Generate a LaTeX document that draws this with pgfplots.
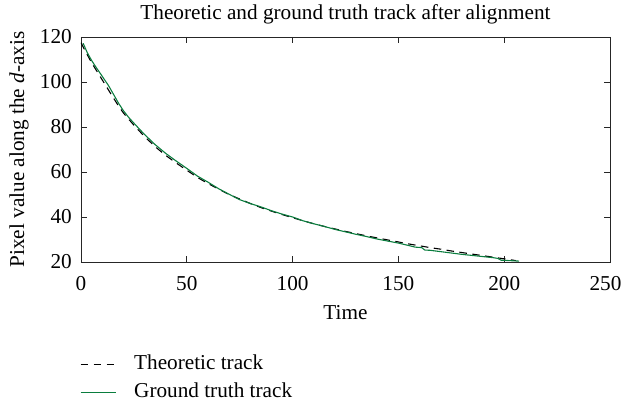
\documentclass[border=0pt]{standalone}
\usepackage{fontspec}
\setmainfont{Liberation Serif}
\usepackage{pgfplots}
\pgfplotsset{compat=1.18}
\definecolor{gtgreen}{RGB}{10,125,62}
\begin{document}
\begin{tikzpicture}[font=\fontsize{21.3}{25}\selectfont]
\begin{axis}[
  scale only axis,
  width=529bp, height=225bp,
  xmin=0, xmax=250, ymin=20, ymax=120,
  xtick={0,50,100,150,200,250},
  xticklabels={0,50,100,150,200,\hspace*{-9bp}250},
  ytick={20,40,60,80,100,120},
  tick align=inside,
  major tick length=6bp,
  axis line style={black!85, line width=1pt},
  tick style={black!85, line width=0.9pt},
  /pgf/number format/assume math mode=true,
  xticklabel style={font=\fontsize{21.3}{25}\selectfont, anchor=base, inner sep=0pt, yshift=-28bp},
  yticklabel style={font=\fontsize{21.3}{25}\selectfont, anchor=east, inner sep=0pt, xshift=-9bp},
  title={Theoretic and ground truth track after alignment},
  title style={at={(axis description cs:0.5,1)}, anchor=base, inner sep=0pt, yshift=12bp},
  xlabel={Time},
  xlabel style={at={(axis description cs:0.5,0)}, anchor=base, inner sep=0pt, yshift=-57bp},
  ylabel={Pixel value along the \textit{d}-axis},
  ylabel style={at={(axis description cs:-0.117,0.5)}, anchor=center, inner sep=0pt},
  legend style={at={(axis description cs:-0.002,-0.405)}, anchor=north west,
    draw=none, fill=none, inner sep=0pt,
    font=\fontsize{21.3}{25}\selectfont,
    nodes={inner sep=2bp, text height=14bp, text depth=4bp},
    row sep=6bp, column sep=16bp},
  legend cell align=left,
  legend image code/.code={\draw[#1] (0bp,0bp) -- (35bp,0bp);},
]
\addplot[black, line width=1.1pt, dash pattern=on 7.5bp off 5.5bp] coordinates {
(0,117.5) (2,113.8) (5,108.6) (7.5,104.8) (10,101) (12.5,97.2) (15,93.4) (17.5,89.7) (20,86.3)
(25,80.8) (30,75.8) (35,71.3) (40,67.4) (45,64) (50,60.8) (55,57.6) (60,54.9) (65,52.4)
(70,50) (75,48) (80,46) (85,44.2) (90,42.6) (95,41.1) (100,39.7) (105,38.3) (110,37)
(115,35.8) (120,34.7) (125,33.6) (130,32.6) (135,31.6) (140,30.7) (145,29.8) (150,28.9)
(155,28) (160,27.2) (165,26.4) (170,25.7) (175,24.9) (180,24.2) (185,23.5) (190,22.8)
(195,22.1) (200,21.4) (203,21.0) (205.5,20.6)
};
\addlegendentry{Theoretic track}
\addplot[gtgreen, line width=1.1pt] coordinates {
(1,117.2) (3,113) (5,109.6) (7,106.7) (10,102.6) (13,98.4) (15.5,94.3) (17.6,90.8) (20,87.3)
(22.5,84.3) (25.5,81.2) (30,76.7) (35,72.2) (40,68.3) (44.5,65.2) (50,61.6) (55,58.2) (60,55.5)
(65,52.6) (70,50.1) (75,47.7) (80,46) (85,44.5) (90,42.8) (95,41.3) (100,40) (105,38.3)
(110,37) (115,35.8) (120,34.5) (125,33.4) (130,32.3) (135,31.3) (140,30.2) (145,29.3)
(150,28.4) (155,27.3) (158,26.6) (161,26.4) (162.5,25.3) (165,25.2) (170,24.6) (175,24)
(180,23.4) (185,22.9) (190,22.4) (195,21.9) (197,21.6) (198.5,20.8) (203,20.6) (207,20.4)
};
\addlegendentry{Ground truth track}
\end{axis}
\pgfresetboundingbox
\path[use as bounding box] ([shift={(-81bp,-139bp)}]current axis.south west) rectangle ++(624bp,401bp);
\end{tikzpicture}
\end{document}
